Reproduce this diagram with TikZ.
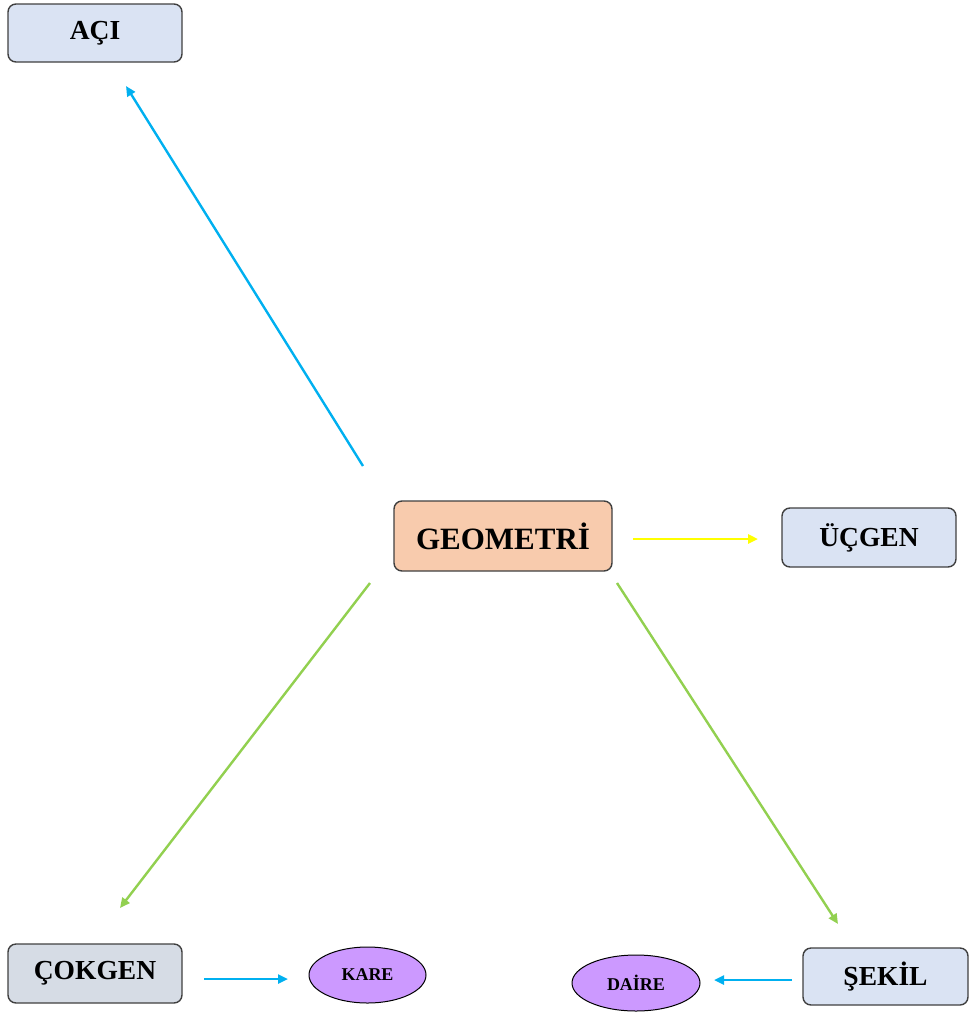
\documentclass[tikz,border=0pt]{standalone}
\usepackage{fontspec}
\setmainfont{Liberation Serif}
\usetikzlibrary{arrows.meta,shapes.geometric}
\definecolor{boxblue}{HTML}{DAE3F3}
\definecolor{boxgray}{HTML}{D6DCE5}
\definecolor{boxpeach}{HTML}{F8CBAD}
\definecolor{lilac}{HTML}{CC99FF}
\definecolor{edgegray}{HTML}{404040}
\definecolor{skyline}{HTML}{00B0F0}
\definecolor{grassline}{HTML}{92D050}
\definecolor{sunline}{HTML}{FFFF00}
\tikzset{
  topic/.style={draw=edgegray, line width=1.4pt, rounded corners=8pt,
    fill=boxblue, inner sep=0pt, font=\fontsize{27.5}{31}\selectfont\bfseries},
  leaf/.style={ellipse, draw=black, line width=1pt, fill=lilac, inner sep=0pt,
    font=\fontsize{18}{21}\selectfont\bfseries},
  link/.style={line width=2.4pt, -{Triangle[length=10pt,width=9pt]}}
}
\begin{document}
\begin{tikzpicture}[x=1pt,y=-1pt]
\useasboundingbox (0,0) rectangle (969,1012);

% main topic and sub-topics
\node[topic, fill=boxpeach, minimum width=218pt, minimum height=70pt,
      font=\fontsize{31}{35}\selectfont\bfseries] (geo) at (503,536) {GEOMETRİ};
\node[topic, minimum width=174pt, minimum height=58pt] (aci) at (95,33) {AÇI};
\node[topic, minimum width=174pt, minimum height=59pt] (ucgen) at (869,537.5) {ÜÇGEN};
\node[topic, fill=boxgray, minimum width=174pt, minimum height=59pt] (cokgen) at (95,973.5) {ÇOKGEN};
\node[topic, minimum width=165pt, minimum height=57pt] (sekil) at (885.5,976.5) {ŞEKİL};

% examples
\node[leaf, minimum width=117pt, minimum height=56pt] (kare) at (367.5,975) {KARE};
\node[leaf, minimum width=128pt, minimum height=56pt] (daire) at (636,983) {DAİRE};

% connector end points
\coordinate (geoNW) at (363,466);
\coordinate (aciS) at (126,86);
\coordinate (geoE) at (633,539);
\coordinate (ucgenW) at (758,539);
\coordinate (geoSW) at (370,583);
\coordinate (cokgenN) at (120,908);
\coordinate (geoSE) at (617,583);
\coordinate (sekilN) at (838,924);
\coordinate (cokgenE) at (204,979);
\coordinate (kareW) at (288,979);
\coordinate (sekilW) at (792,980);
\coordinate (daireE) at (714,980);

% connectors
\draw[link, skyline] (geoNW) -- (aciS);
\draw[link, sunline, line width=2.8pt] (geoE) -- (ucgenW);
\draw[link, grassline] (geoSW) -- (cokgenN);
\draw[link, grassline] (geoSE) -- (sekilN);
\draw[link, skyline] (cokgenE) -- (kareW);
\draw[link, skyline] (sekilW) -- (daireE);
\end{tikzpicture}
\end{document}
